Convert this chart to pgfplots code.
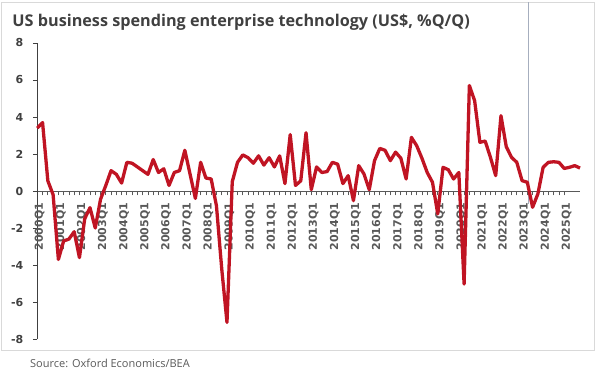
\documentclass[border=0pt]{standalone}
\usepackage{pgfplots}
\pgfplotsset{compat=1.18}
\usepackage{fontspec}
\setmainfont{Open Sans}
\newfontfamily\tickfont{DejaVu Sans}
\definecolor{linered}{RGB}{192,20,35}
\definecolor{titlegray}{RGB}{64,64,64}
\definecolor{labgray}{RGB}{89,89,89}
\definecolor{framegray}{RGB}{217,217,217}
\definecolor{vline}{RGB}{166,174,190}
\pgfplotstableread{
i v
0 3.4
1 3.7
2 0.55
3 -0.2
4 -3.7
5 -2.7
6 -2.6
7 -2.2
8 -3.6
9 -1.5
10 -0.9
11 -2.0
12 -0.45
13 0.3
14 1.1
15 0.9
16 0.43
17 1.55
18 1.5
19 1.3
20 1.1
21 0.9
22 1.7
23 1.0
24 1.2
25 0.3
26 1.0
27 1.1
28 2.2
29 0.9
30 -0.4
31 1.55
32 0.7
33 0.65
34 -0.8
35 -4.2
36 -7.1
37 0.5
38 1.55
39 1.95
40 1.8
41 1.5
42 1.9
43 1.4
44 1.8
45 1.3
46 1.9
47 0.4
48 3.05
49 0.3
50 0.55
51 3.15
52 0.07
53 1.3
54 1.0
55 1.05
56 1.55
57 1.45
58 0.4
59 0.83
60 -0.52
61 1.37
62 0.92
63 0.07
64 1.64
65 2.3
66 2.2
67 1.64
68 2.1
69 1.77
70 0.65
71 2.9
72 2.45
73 1.77
74 1.0
75 0.47
76 -1.24
77 1.28
78 1.15
79 0.65
80 1.0
81 -5.03
82 5.7
83 4.88
84 2.63
85 2.7
86 1.82
87 0.83
88 4.07
89 2.4
90 1.82
91 1.55
92 0.56
93 0.47
94 -0.88
95 -0.16
96 1.28
97 1.55
98 1.58
99 1.55
100 1.22
101 1.28
102 1.37
103 1.24
}\datatable
\begin{document}
\begin{tikzpicture}[x=1bp,y=1bp]
\useasboundingbox (0,0) rectangle (595,373);
\draw[framegray, line width=0.8bp] (1,22.3) rectangle (594,370.3);
\node[anchor=base west, inner sep=0pt, text=titlegray, font=\fontsize{16.2bp}{19bp}\selectfont\bfseries] at (12.3,347) {US business spending enterprise technology (US\$, \%Q/Q)};
\node[anchor=base west, inner sep=0pt, text=labgray, font=\fontsize{11bp}{13bp}\selectfont] at (30,6) {Source: Oxford Economics/BEA};
\begin{axis}[
  at={(37.3bp,34bp)}, anchor=south west,
  scale only axis, width=542.7bp, height=296bp,
  xmin=0, xmax=103, ymin=-8, ymax=8,
  clip=false,
  axis x line=middle, axis y line=left,
  hide obscured x ticks=false,
  every inner x axis line/.append style={-, labgray, line width=0.9bp},
  every outer y axis line/.append style={-, titlegray, line width=0.9bp},
  axis line style={-},
  xtick={0,4,...,100},
  xticklabels={2000Q1,2001Q1,2002Q1,2003Q1,2004Q1,2005Q1,2006Q1,2007Q1,2008Q1,2009Q1,2010Q1,2011Q1,2012Q1,2013Q1,2014Q1,2015Q1,2016Q1,2017Q1,2018Q1,2019Q1,2020Q1,2021Q1,2022Q1,2023Q1,2024Q1,2025Q1},
  minor x tick num=3,
  ytick={-8,-6,...,8},
  tick align=outside,
  major tick length=4.5bp, minor tick length=4.5bp,
  xtick style={labgray, line width=0.8bp},
  minor x tick style={labgray, line width=0.8bp},
  ytick style={titlegray, line width=0.9bp},
  xticklabel style={font=\tickfont\fontsize{11bp}{12bp}\selectfont\bfseries, text=labgray, xshift=2.4bp, rotate=90, anchor=east, inner sep=0pt},
  xticklabel shift=7bp,
  yticklabel style={font=\tickfont\fontsize{11bp}{13bp}\selectfont\bfseries, text=titlegray, xshift=-6bp},
  /pgf/number format/assume math mode=true,
]
\draw[vline, line width=1.2bp] (axis cs:93.15,-0.7) -- (axis cs:93.15,10.2);
\addplot[linered, line width=3.3bp, line join=round, mark=none] table[x=i,y=v] {\datatable};
\end{axis}
\end{tikzpicture}
\end{document}
